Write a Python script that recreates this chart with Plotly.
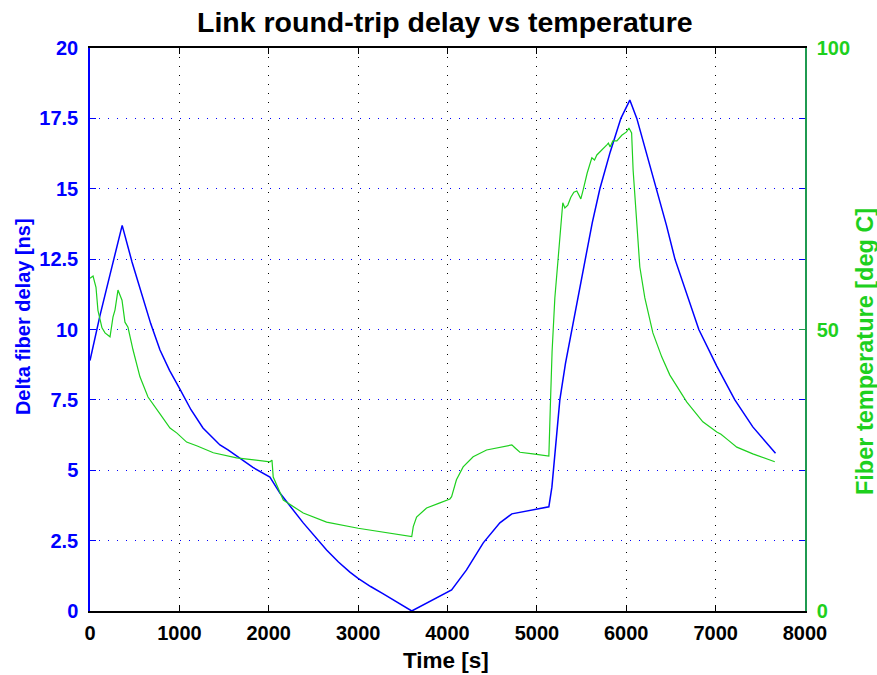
import plotly.graph_objects as go

# Delay (left axis, ns)
t_delay = [0, 112, 224, 302, 360, 470, 593, 680, 783, 890, 1000, 1130, 1264, 1454,
           1544, 1823, 2013, 2040, 2125, 2386, 2520, 2647, 2780, 2908, 3000, 3140, 3277, 3445,
           3600, 4046, 4213, 4400, 4586, 4720, 4955, 5134, 5168, 5201, 5257, 5320,
           5391, 5460, 5537, 5620, 5705, 5820, 5940, 6040, 6118, 6230, 6342, 6450,
           6545, 6680, 6812, 7013, 7215, 7416, 7670]
delay = [8.9, 10.5, 11.95, 12.95, 13.7, 12.4, 11.15, 10.2, 9.27, 8.55, 7.92, 7.15, 6.5, 5.9,
         5.72, 5.1, 4.76, 4.62, 4.19, 3.13, 2.62, 2.17, 1.74, 1.38, 1.16, 0.87, 0.62, 0.29,
         0.0, 0.75, 1.46, 2.42, 3.13, 3.45, 3.59, 3.7, 4.4, 5.6, 7.5, 8.8,
         10.0, 11.2, 12.5, 13.8, 15.0, 16.3, 17.5, 18.15, 17.5, 16.2, 15.0, 13.7,
         12.5, 11.2, 10.0, 8.7, 7.5, 6.54, 5.6]

# Temperature (right axis, deg C)
t_temp = [0, 34, 67, 89, 134, 168, 224, 257, 280, 313, 358, 391, 425, 481, 559, 649,
          783, 895, 973, 1081, 1200, 1380, 1640, 2013, 2036, 2050, 2163, 2386, 2647,
          2908, 3000, 3600, 3617, 3654, 3766, 3915, 4027, 4046, 4100, 4175, 4287,
          4437, 4586, 4720, 4754, 4810, 4955, 5134, 5150, 5170, 5201, 5235, 5280,
          5290, 5313, 5346, 5380, 5414, 5447, 5470, 5492, 5518, 5563, 5615, 5645,
          5671, 5705, 5742, 5783, 5800, 5820, 5850, 5895, 5950, 6003, 6030, 6060,
          6077, 6115, 6135, 6152, 6208, 6298, 6398, 6488, 6678, 6857, 7013, 7060,
          7137, 7237, 7416, 7662]
temp = [59.1, 59.5, 57.5, 53.4, 50.3, 49.4, 48.7, 52.2, 53.5, 57.0, 55.2, 51.3, 50.4, 46.4, 41.6, 38.0,
        35.0, 32.5, 31.6, 30.0, 29.3, 28.1, 27.2, 26.5, 26.8, 23.8, 19.7, 17.4, 15.8,
        14.9, 14.7, 13.2, 15.0, 16.7, 18.3, 19.2, 19.9, 20.3, 23.3, 25.6, 27.4,
        28.6, 29.1, 29.5, 29.0, 28.2, 27.9, 27.5, 36.0, 46.0, 55.6, 62.3, 70.7,
        72.5, 71.6, 72.1, 73.5, 74.4, 74.6, 73.9, 73.2, 74.8, 77.8, 80.5, 80.1,
        81.0, 81.5, 82.2, 82.8, 83.1, 82.4, 83.5, 83.5, 84.5, 85.1, 85.8, 84.9,
        78.3, 69.4, 64.1, 61.1, 55.6, 49.4, 45.1, 41.9, 37.1, 33.6, 31.8, 31.4,
        30.4, 29.1, 27.9, 26.5]

x_ticks = [0, 1000, 2000, 3000, 4000, 5000, 6000, 7000, 8000]
y_ticks = [0, 2.5, 5, 7.5, 10, 12.5, 15, 17.5, 20]
y_ticktext = ["0", "2.5", "5", "7.5", "10", "12.5", "15", "17.5", "20"]
y2_ticks = [0, 50, 100]

BLUE = "#0000ff"
GREEN = "#1ed01e"
GREEN_AXIS = "#1f9a50"
FONT = "Liberation Sans"

fig = go.Figure()
fig.add_trace(go.Scatter(x=t_delay, y=delay, mode="lines",
                         line=dict(color=BLUE, width=1.5), yaxis="y",
                         showlegend=False, hoverinfo="skip"))
fig.add_trace(go.Scatter(x=t_temp, y=temp, mode="lines",
                         line=dict(color=GREEN, width=1.2), yaxis="y2",
                         showlegend=False, hoverinfo="skip"))

fig.update_layout(
    width=877, height=675,
    margin=dict(l=90, r=72, t=48, b=64),
    paper_bgcolor="white", plot_bgcolor="white",
    showlegend=False,
    xaxis=dict(range=[0, 8000], tickvals=x_ticks, ticks="inside", ticklen=6,
               tickcolor="black", showline=True, linecolor="black", linewidth=1.5,
               mirror="ticks", showgrid=True, gridcolor="black", gridwidth=1,
               griddash="1px,8px", zeroline=False, ticklabelstandoff=3,
               tickfont=dict(family=FONT, size=20, color="black", weight="bold")),
    yaxis=dict(range=[0, 20], tickvals=y_ticks, ticktext=y_ticktext,
               ticks="inside", ticklen=6, tickcolor=BLUE, showline=True,
               linecolor=BLUE, linewidth=1.5, mirror="ticks", showgrid=True,
               gridcolor=BLUE, gridwidth=1, griddash="1px,8px", zeroline=False,
               ticklabelstandoff=6,
               tickfont=dict(family=FONT, size=20, color=BLUE, weight="bold")),
    yaxis2=dict(range=[0, 100], tickvals=y2_ticks, overlaying="y", side="right",
                ticks="inside", ticklen=6, tickcolor=GREEN_AXIS, showline=True,
                linecolor=GREEN_AXIS, linewidth=1.5, showgrid=False, zeroline=False,
                ticklabelstandoff=6,
                tickfont=dict(family=FONT, size=20, color=GREEN, weight="bold")),
    annotations=[
        dict(text="Link round-trip delay vs temperature", xref="paper", yref="paper",
             x=0.4965, y=1.046, xanchor="center", yanchor="middle", showarrow=False,
             font=dict(family=FONT, size=28.5, color="black", weight="bold")),
        dict(text="Time [s]", xref="paper", yref="paper",
             x=0.4975, y=-0.088, xanchor="center", yanchor="middle", showarrow=False,
             font=dict(family=FONT, size=22.5, color="black", weight="bold")),
        dict(text="Delta fiber delay [ns]", xref="paper", yref="paper",
             x=-0.0937, y=0.522, xanchor="center", yanchor="middle", showarrow=False,
             textangle=-90,
             font=dict(family=FONT, size=20, color=BLUE, weight="bold")),
        dict(text="Fiber temperature [deg C]", xref="paper", yref="paper",
             x=1.084, y=0.46, xanchor="center", yanchor="middle", showarrow=False,
             textangle=-90,
             font=dict(family=FONT, size=23.5, color=GREEN, weight="bold")),
    ],
)

fig.write_html("out.html")
